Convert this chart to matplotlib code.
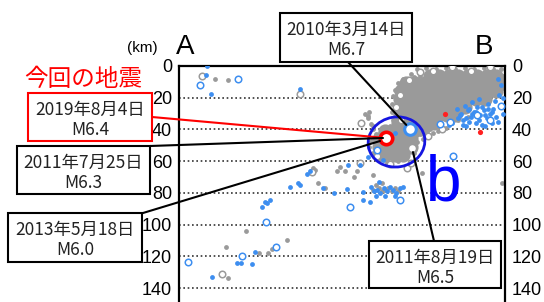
import matplotlib
matplotlib.use("Agg")
import matplotlib.pyplot as plt
from matplotlib.patches import Rectangle, Ellipse, ConnectionPatch

W, H = 544, 302
JP = ["Noto Sans CJK JP", "DejaVu Sans"]

# depth ticks (km)
depth_ticks = [0, 20, 40, 60, 80, 100, 120, 140]

# dense gray cloud (distance along A-B, depth) in km
core_dist = [158, 164, 170, 176, 182, 188, 194, 200,
             143, 149, 155, 161, 167, 173, 179, 185, 191, 197, 202,
             140, 146, 152, 158, 164, 170, 176, 182, 188, 194, 200,
             139, 145, 151, 157, 163, 169, 175, 181, 187, 193,
             139, 145, 151, 157, 163, 169, 175, 180,
             139, 145, 151, 157, 163, 169, 174,
             138, 144, 150, 156, 161,
             130, 136, 142, 148, 154,
             126, 131, 136, 141, 146,
             126, 131, 136, 141, 146,
             130, 136, 141]
core_depth = [6, 6, 6, 6, 6, 6, 6, 6,
              11, 11, 11, 11, 11, 11, 11, 11, 11, 11, 11,
              16, 16, 16, 16, 16, 16, 16, 16, 16, 16, 16,
              21, 21, 21, 21, 21, 21, 21, 21, 21, 21,
              26, 26, 26, 26, 26, 26, 26, 26,
              31, 31, 31, 31, 31, 31, 31,
              36, 36, 36, 36, 36,
              41, 41, 41, 41, 40,
              46, 46, 46, 46, 46,
              51, 51, 51, 51, 51,
              56, 56, 56]

# scattered gray events
gray_dist = [150, 156, 162, 168, 174, 180, 186, 192, 198, 203, 146, 141, 138, 136,
             135, 134, 134, 135, 133, 128, 124, 121, 120, 122, 126, 131, 138, 143,
             148, 150, 152, 158, 164, 170, 176, 182, 160, 154, 117, 119, 204, 204,
             122, 22.7, 30.9, 119.2, 121.1, 122.3, 119.8, 30.9, 29.6, 50.4, 56.1,
             58.6, 68.1, 42.2, 85.8, 84.5, 87.6, 99.6, 101.5, 104.7, 122, 126, 128,
             130, 132, 134, 136, 138, 124, 128, 122.3, 153.2, 203.7, 92, 110, 112,
             152, 148, 163, 168]
gray_depth = [2, 1, 2, 1, 2, 1, 2, 1, 2, 2, 5, 8, 11, 15,
              19, 24, 29, 34, 38, 40, 43, 47, 51, 55, 59, 61, 60, 58,
              55, 48, 43, 40, 38, 36, 34, 32, 42, 46, 30, 33, 6, 14,
              38, 8.2, 8.6, 31.5, 36.6, 39.7, 29.0, 133.7, 114.1, 117.9, 117.9,
              115.4, 109.7, 104.0, 65.6, 64.3, 73.8, 66.2, 63.7, 66.2, 78, 77, 79,
              78, 77, 79, 77, 79, 75, 74, 68.7, 67.5, 73.8, 77, 70, 66,
              6, 7, 41, 39]

gray_open_dist = [14.5, 76.3, 27.1, 83.9, 143.8, 160, 172, 184, 196, 145, 139, 137,
                  140, 125, 133, 146, 157, 166, 115, 152, 114.1]
gray_open_depth = [6.3, 17.7, 131.1, 66.8, 64.3, 3, 0.5, 3, 0.5, 9, 18, 26,
                   34, 57, 62, 61, 44, 40, 36, 4, 61]

# blue events
blue_dist = [17.0, 17.7, 20.2, 76.3, 20.8, 36.6, 39.1, 46.0, 47.9, 52.3, 55.5,
             57.4, 54.2, 70.0, 75.0, 76.3, 80.7, 82.6, 90.8, 97.7, 106.6, 105.9,
             116.0, 116.0, 120.4, 114.1, 141.2,
             121, 123, 125, 127, 129, 131, 133, 135, 137, 139, 124, 130, 136, 126,
             175, 178, 180, 182, 184, 186, 188, 190, 192, 194, 196, 198, 200, 183,
             187, 191, 179, 195, 199, 202, 203, 201, 197, 185, 189, 176, 172, 193,
             181, 170, 119.2, 128.6, 136.2,
             177, 181, 185, 189, 193, 197, 201, 183, 187, 191, 195, 179, 204, 204]
blue_depth = [5.7, 0, 17.7, 14.5, 133.0, 124.2, 124.2, 124.8, 117.3, 88.9, 86.4,
              84.5, 85.8, 76.3, 73.8, 75.0, 68.1, 66.2, 76.9, 80.1, 62.4, 77.6,
              79.4, 84.5, 85.8, 62.4, 76.3,
              76, 79, 78, 80, 77, 79, 76, 78, 80, 77, 82, 82, 82, 73,
              27, 30, 25, 28, 32, 29, 26, 31, 28, 33, 30, 27, 32, 35,
              36, 37, 34, 24, 22, 18, 12, 8, 36, 23, 21, 33, 36, 38,
              38, 37, 57.4, 59.3, 42.2,
              31, 33, 30, 34, 31, 29, 35, 27, 29, 26, 27, 37, 30, 20]

blue_open_dist = [13.2, 37.2, 5.7, 39.7, 61.2, 54.9, 107.8, 139.3, 172.8, 164.6,
                  171, 196, 203, 188, 124.8]
blue_open_depth = [12.0, 8.2, 123.6, 119.8, 114.1, 98.4, 88.9, 84.5, 56.7, 36.6,
                   35, 34, 25, 31, 53.0]

red_dist = [167.7, 189.8]
red_depth = [30.3, 41.6]

# labelled events: text, distance, depth
ev_2010 = ("2010年3月14日", "M6.7", 145.6, 39.7)
ev_2019 = ("2019年8月4日", "M6.4", 130.5, 45.4)
ev_2011a = ("2011年7月25日", "M6.3", 128.6, 45.4)
ev_2013 = ("2013年5月18日", "M6.0", 126.7, 47.3)
ev_2011b = ("2011年8月19日", "M6.5", 146.9, 51.7)


def fx(px):
    return px / W


def fy(py):
    return 1 - py / H


fig = plt.figure(figsize=(W / 100, H / 100), dpi=100)
ax = fig.add_axes([fx(179), 0, (505 - 179) / W, (H - 66) / H])

gray = "#9a9a9a"
blue = "#3d8ef0"

ax.scatter(core_dist, core_depth, s=105, color=gray, lw=0, zorder=2)
ax.scatter(gray_dist, gray_depth, s=12, color=gray, lw=0, zorder=2)
ax.scatter(gray_open_dist, gray_open_depth, s=22, facecolor="white",
           edgecolor=gray, lw=1.1, zorder=3)
ax.scatter(blue_dist, blue_depth, s=12, color=blue, lw=0, zorder=4)
ax.scatter(blue_open_dist, blue_open_depth, s=22, facecolor="white",
           edgecolor=blue, lw=1.1, zorder=4)
ax.scatter(red_dist, red_depth, s=14, color="#ff2020", lw=0, zorder=5)

# highlighted events
ax.scatter([ev_2010[2]], [ev_2010[3]], s=70, facecolor="white", edgecolor=blue,
           lw=2.2, zorder=6)
ax.scatter([ev_2011b[2]], [ev_2011b[3]], s=40, facecolor="white", edgecolor=gray,
           lw=1.6, zorder=6)
ax.scatter([ev_2019[2]], [ev_2019[3]], s=80, facecolor="white", edgecolor="red",
           lw=2.6, zorder=7)

ax.add_patch(Ellipse((137.1, 47.9), 35.9, 31.5, angle=-10, fill=False,
                     edgecolor="#1515e0", lw=2, zorder=8))

ax.set_xlim(0, 205.5)
ax.set_ylim(148.8, 0)
ax.set_xticks([])
ax.set_yticks(depth_ticks)
ax.set_yticklabels([str(d) for d in depth_ticks], family="Liberation Sans")
ax.tick_params(axis="y", length=0, pad=5, labelsize=13, left=False,
               labelleft=True, labelright=True)
ax.grid(axis="y", linestyle=(0, (1, 1.6)), color="#333333", lw=1.2)
ax.set_axisbelow(True)
for side in ["top", "left", "right"]:
    ax.spines[side].set_linewidth(1.6)
    ax.spines[side].set_color("black")
ax.spines["bottom"].set_visible(False)

ax.text(167, 74, "b", color="#0000ff", fontsize=46,
        family="Liberation Sans", ha="center", va="center", zorder=9)

# labels above the section
fig.text(fx(142), fy(48), "(km)", fontsize=11, ha="center", va="center",
         family="Liberation Sans")
fig.text(fx(185), fy(47), "A", fontsize=20, ha="center", va="center",
         family="Liberation Sans")
fig.text(fx(484), fy(47), "B", fontsize=20, ha="center", va="center",
         family="Liberation Sans")
fig.text(fx(83), fy(79), "今回の地震", fontsize=17, color="red", ha="center",
         va="center", family=JP)


def label_box(ev, x0, y0, x1, y1, edge="black"):
    fig.add_artist(Rectangle((fx(x0), fy(y1)), (x1 - x0) / W, (y1 - y0) / H,
                             transform=fig.transFigure, facecolor="white",
                             edgecolor=edge, lw=1.5, zorder=20))
    cx = (x0 + x1) / 2
    fig.text(fx(cx), fy(y0 + 16.5), ev[0], fontsize=12.5, ha="center",
             va="center", family=JP, color="#222222", zorder=21)
    fig.text(fx(cx), fy(y0 + 37), ev[1], fontsize=12.5, ha="center",
             va="center", family=JP, color="#222222", zorder=21)


def leader(px, py, ev, color="black", shrink=0):
    fig.add_artist(ConnectionPatch((fx(px), fy(py)), (ev[2], ev[3]),
                                   coordsA=fig.transFigure, coordsB=ax.transData,
                                   color=color, lw=1.5, shrinkB=shrink,
                                   zorder=15))


leader(348, 62, ev_2010, shrink=4)
leader(152, 117, ev_2019, color="red", shrink=3)
leader(150, 146, ev_2011a)
leader(143, 213, ev_2013)
leader(434, 241, ev_2011b, shrink=3)

label_box(ev_2010, 280, 13, 412, 62)
label_box(ev_2019, 28, 93, 152, 141, edge="red")
label_box(ev_2011a, 17, 146, 150, 194)
label_box(ev_2013, 8, 213, 142, 262)
label_box(ev_2011b, 369, 241, 501, 288)

fig.savefig("out.png", dpi=100)
